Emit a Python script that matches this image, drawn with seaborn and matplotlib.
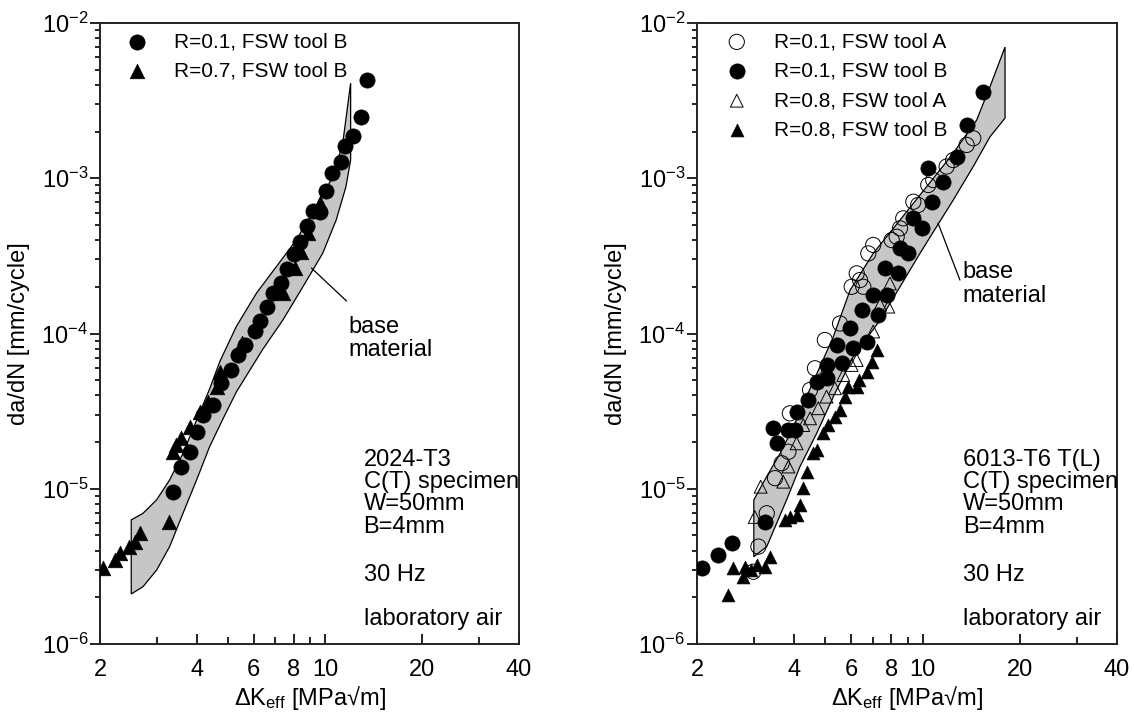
import matplotlib
matplotlib.use('Agg')
import matplotlib.pyplot as plt
import matplotlib.ticker as mticker
import numpy as np
import seaborn as sns

# ---- left panel: 2024-T3 ----
l_r01b_dk = [3.37, 3.56, 3.80, 3.99, 4.18, 4.49, 4.76, 5.12, 5.36, 5.63, 6.04, 6.29, 6.60, 6.88,
             7.31, 7.61, 7.98, 8.37, 8.77, 9.16, 9.65, 10.08, 10.52, 11.21, 11.56, 12.24, 12.93, 13.46]
l_r01b_rate = [9.57e-6, 1.39e-5, 1.73e-5, 2.33e-5, 2.99e-5, 3.46e-5, 4.78e-5, 5.82e-5, 7.27e-5, 8.43e-5,
               1.04e-4, 1.21e-4, 1.49e-4, 1.82e-4, 2.12e-4, 2.6e-4, 3.25e-4, 3.9e-4, 4.95e-4, 6.18e-4,
               6.09e-4, 8.3e-4, 1.08e-3, 1.28e-3, 1.61e-3, 1.87e-3, 2.47e-3, 4.3e-3]
l_r07b_dk = [2.04, 2.23, 2.31, 2.46, 2.57, 2.66, 3.28, 3.37, 3.44, 3.58, 3.80, 4.08, 4.33, 4.60, 4.71,
             5.50, 7.39, 8.04, 8.43, 8.84, 9.61]
l_r07b_rate = [3.07e-6, 3.48e-6, 3.84e-6, 4.24e-6, 4.56e-6, 5.16e-6, 6.13e-6, 1.73e-5, 1.91e-5, 2.11e-5,
               2.51e-5, 3.13e-5, 3.64e-5, 4.54e-5, 5.68e-5, 8.65e-5, 1.82e-4, 2.63e-4, 3.36e-4, 4.42e-4, 6.9e-4]

l_band_up_dk = [2.5, 2.72, 3.0, 3.29, 3.62, 3.99, 4.38, 4.71, 5.30, 6.12, 7.05, 8.13, 9.38, 10.56, 11.34, 12.0]
l_band_up_rate = [6.3e-6, 6.95e-6, 8.5e-6, 1.14e-5, 1.69e-5, 2.77e-5, 4.4e-5, 6.6e-5, 1.11e-4, 1.82e-4,
                  2.69e-4, 4.0e-4, 6.56e-4, 1.02e-3, 1.68e-3, 4.1e-3]
l_band_lo_dk = [2.5, 2.72, 3.0, 3.29, 3.62, 3.99, 4.38, 4.85, 5.30, 6.40, 7.39, 8.53, 9.83, 10.82, 11.6, 12.0]
l_band_lo_rate = [2.1e-6, 2.34e-6, 3.0e-6, 4.24e-6, 6.95e-6, 1.14e-5, 1.87e-5, 2.9e-5, 4.2e-5, 7.9e-5,
                  1.22e-4, 2.0e-4, 3.29e-4, 5.38e-4, 8.8e-4, 1.31e-3]

# ---- right panel: 6013-T6 ----
r_r01a_dk = [2.99, 3.10, 3.29, 3.49, 3.66, 3.84, 3.88, 4.48, 4.64, 4.98, 5.55, 6.03, 6.55, 6.25, 6.40,
             6.79, 7.03, 8.02, 8.31, 8.51, 8.71, 9.36, 9.69, 10.41, 10.79, 11.87, 12.44, 13.69, 14.35]
r_r01a_rate = [2.92e-6, 4.24e-6, 6.95e-6, 1.17e-5, 1.46e-5, 1.73e-5, 3.06e-5, 4.33e-5, 5.97e-5, 9.08e-5,
               1.16e-4, 2.0e-4, 2.0e-4, 2.44e-4, 2.21e-4, 3.28e-4, 3.72e-4, 4.0e-4, 4.2e-4, 4.76e-4,
               5.52e-4, 7.06e-4, 6.73e-4, 9.05e-4, 9.74e-4, 1.19e-3, 1.31e-3, 1.64e-3, 1.81e-3]
r_r01b_dk = [2.07, 2.33, 2.56, 3.25, 3.45, 3.53, 3.84, 4.02, 4.07, 4.42, 4.70, 5.04, 5.04, 5.61, 5.42,
             6.10, 6.71, 5.96, 6.47, 7.29, 7.03, 7.74, 7.65, 8.41, 8.51, 9.03, 9.36, 9.93, 10.67, 10.41,
             11.54, 12.75, 13.69, 15.35]
r_r01b_rate = [3.07e-6, 3.74e-6, 4.45e-6, 6.13e-6, 2.45e-5, 1.96e-5, 2.39e-5, 2.39e-5, 3.13e-5, 3.73e-5,
               4.89e-5, 5.14e-5, 6.27e-5, 6.43e-5, 8.43e-5, 8.03e-5, 8.86e-5, 1.08e-4, 1.42e-4, 1.32e-4,
               1.77e-4, 1.77e-4, 2.63e-4, 2.44e-4, 3.54e-4, 3.28e-4, 5.52e-4, 4.76e-4, 7.06e-4, 1.16e-3,
               9.5e-4, 1.38e-3, 2.2e-3, 3.61e-3]
r_r08a_dk = [3.02, 3.15, 3.70, 3.84, 4.07, 4.27, 4.48, 4.75, 5.04, 5.35, 5.68, 6.03, 6.25, 7.03, 7.38, 7.83, 7.92]
r_r08a_rate = [6.58e-6, 1.03e-5, 1.11e-5, 1.39e-5, 1.96e-5, 2.57e-5, 2.84e-5, 3.3e-5, 3.92e-5, 4.44e-5,
               5.4e-5, 6.27e-5, 6.75e-5, 1.03e-4, 1.53e-4, 1.49e-4, 2.1e-4]
r_r08b_dk = [2.50, 2.59, 2.78, 2.82, 2.95, 3.06, 3.25, 3.37, 3.75, 3.88, 4.07, 4.17, 4.27, 4.37, 4.58,
             4.70, 4.92, 5.10, 5.35, 5.55, 5.75, 5.88, 6.25, 6.36, 6.71, 6.95, 7.21]
r_r08b_rate = [2.07e-6, 3.07e-6, 2.71e-6, 3.15e-6, 3.0e-6, 3.23e-6, 3.15e-6, 3.65e-6, 6.29e-6, 6.6e-6,
               6.78e-6, 7.86e-6, 1.01e-5, 1.29e-5, 1.69e-5, 1.78e-5, 2.28e-5, 2.57e-5, 2.91e-5, 3.21e-5,
               3.92e-5, 4.54e-5, 4.54e-5, 5.02e-5, 5.68e-5, 6.58e-5, 7.83e-5]

r_band_up_dk = [3.0, 3.29, 3.62, 3.98, 4.37, 4.81, 5.29, 5.96, 7.03, 8.51, 10.29, 12.44, 14.7, 16.17, 18.0]
r_band_up_rate = [8.47e-6, 1.2e-5, 1.69e-5, 2.51e-5, 3.92e-5, 6.11e-5, 9.54e-5, 1.9e-4, 3.28e-4, 5.38e-4,
                  8.82e-4, 1.45e-3, 2.37e-3, 3.89e-3, 7.0e-3]
r_band_lo_dk = [3.0, 3.29, 3.79, 4.17, 4.70, 5.29, 6.10, 7.38, 8.51, 9.81, 11.05, 12.44, 14.35, 16.17, 18.0]
r_band_lo_rate = [3.65e-6, 4.24e-6, 8.47e-6, 1.39e-5, 2.28e-5, 3.92e-5, 7.09e-5, 1.22e-4, 2.0e-4, 3.28e-4,
                  4.88e-4, 7.24e-4, 1.19e-3, 1.85e-3, 2.44e-3]

x_major = [2, 4, 6, 8, 10, 20, 40]
x_minor = [3, 5, 7, 9, 30]
info_lines_left = ["2024-T3", "C(T) specimen", "W=50mm", "B=4mm"]
info_lines_right = ["6013-T6 T(L)", "C(T) specimen", "W=50mm", "B=4mm"]

sns.set_style("ticks")
plt.rcParams['font.family'] = ['Liberation Sans', 'DejaVu Sans']
plt.rcParams['mathtext.default'] = 'regular'
plt.rcParams['axes.linewidth'] = 1.4
plt.rcParams['axes.edgecolor'] = '#222222'
for key in ['text.color', 'axes.labelcolor', 'xtick.color', 'ytick.color']:
    plt.rcParams[key] = 'black'

fig = plt.figure(figsize=(11.34, 7.13), dpi=100)
ax1 = fig.add_axes([0.0882, 0.0968, 0.3695, 0.8709])
ax2 = fig.add_axes([0.6146, 0.0968, 0.3704, 0.8709])

FS = 17


def style_axes(ax):
    ax.set_xscale('log')
    ax.set_yscale('log')
    ax.set_xlim(2, 40)
    ax.set_ylim(1e-6, 1e-2)
    ax.xaxis.set_major_locator(mticker.FixedLocator(x_major))
    ax.xaxis.set_major_formatter(mticker.FixedFormatter([str(t) for t in x_major]))
    ax.xaxis.set_minor_locator(mticker.FixedLocator(x_minor))
    ax.xaxis.set_minor_formatter(mticker.NullFormatter())
    ax.yaxis.set_major_locator(mticker.LogLocator(base=10, numticks=10))
    ax.yaxis.set_minor_locator(mticker.LogLocator(base=10, subs=np.arange(2, 10), numticks=20))
    ax.yaxis.set_major_formatter(mticker.LogFormatterSciNotation())
    ax.yaxis.set_minor_formatter(mticker.NullFormatter())
    ax.tick_params(axis='x', which='both', direction='in', top=False, labelsize=FS, pad=11, width=1.2)
    ax.tick_params(axis='x', which='major', length=7)
    ax.tick_params(axis='x', which='minor', length=5)
    ax.tick_params(axis='y', which='both', direction='out', right=False, labelsize=FS, pad=1.5, width=1.2)
    ax.tick_params(axis='y', which='major', length=7)
    ax.tick_params(axis='y', which='minor', length=3.5)
    ax.set_xlabel(r'$\Delta$K$_{eff}$ [MPa√m]', fontsize=FS, labelpad=2)
    ax.set_ylabel('da/dN [mm/cycle]', fontsize=FS, labelpad=8)
    ax.grid(False)


def band(ax, up_x, up_y, lo_x, lo_y):
    xs = list(up_x) + list(lo_x)[::-1]
    ys = list(up_y) + list(lo_y)[::-1]
    ax.fill(xs, ys, facecolor='#c6c6c6', edgecolor='black', linewidth=0.9, zorder=1)


def info(ax, lines, x):
    base_y = [0.287, 0.251, 0.215, 0.178]
    for yy, t in zip(base_y, lines):
        ax.text(x, yy, t, transform=ax.transAxes, fontsize=FS, va='baseline')
    ax.text(x, 0.101, "30 Hz", transform=ax.transAxes, fontsize=FS, va='baseline')
    ax.text(x, 0.031, "laboratory air", transform=ax.transAxes, fontsize=FS, va='baseline')


def legend(ax, x0):
    ax.legend(loc='upper left', bbox_to_anchor=(x0, 0.985), frameon=False, fontsize=15,
              handlelength=1.0, handletextpad=1.28, labelspacing=0.5, borderpad=0, borderaxespad=0)


# left panel
band(ax1, l_band_up_dk, l_band_up_rate, l_band_lo_dk, l_band_lo_rate)
sns.scatterplot(x=l_r01b_dk, y=l_r01b_rate, ax=ax1, marker='o', s=120, color='black',
                edgecolor='black', linewidth=0.5, label='R=0.1, FSW tool B', zorder=3)
sns.scatterplot(x=l_r07b_dk, y=l_r07b_rate, ax=ax1, marker='^', s=110, color='black',
                edgecolor='black', linewidth=0.5, label='R=0.7, FSW tool B', zorder=3)
style_axes(ax1)
info(ax1, info_lines_left, 0.629)
ax1.text(0.593, 0.5008, "base", transform=ax1.transAxes, fontsize=FS, va='baseline')
ax1.text(0.593, 0.4638, "material", transform=ax1.transAxes, fontsize=FS, va='baseline')
ax1.annotate('', xy=(9.07, 2.64e-4), xytext=(11.65, 1.62e-4),
             arrowprops=dict(arrowstyle='-', lw=0.9, color='black', shrinkA=0, shrinkB=0))
legend(ax1, 0.063)

# right panel
band(ax2, r_band_up_dk, r_band_up_rate, r_band_lo_dk, r_band_lo_rate)
sns.scatterplot(x=r_r01a_dk, y=r_r01a_rate, ax=ax2, marker='o', s=120, facecolor='none',
                edgecolor='black', linewidth=0.7, label='R=0.1, FSW tool A', zorder=3)
sns.scatterplot(x=r_r01b_dk, y=r_r01b_rate, ax=ax2, marker='o', s=120, color='black',
                edgecolor='black', linewidth=0.5, label='R=0.1, FSW tool B', zorder=3)
sns.scatterplot(x=r_r08a_dk, y=r_r08a_rate, ax=ax2, marker='^', s=85, facecolor='none',
                edgecolor='black', linewidth=0.7, label='R=0.8, FSW tool A', zorder=3)
sns.scatterplot(x=r_r08b_dk, y=r_r08b_rate, ax=ax2, marker='^', s=85, color='black',
                edgecolor='black', linewidth=0.5, label='R=0.8, FSW tool B', zorder=3)
style_axes(ax2)
info(ax2, info_lines_right, 0.633)
ax2.text(0.633, 0.5894, "base", transform=ax2.transAxes, fontsize=FS, va='baseline')
ax2.text(0.633, 0.5507, "material", transform=ax2.transAxes, fontsize=FS, va='baseline')
ax2.annotate('', xy=(11.16, 5.15e-4), xytext=(13.05, 2.21e-4),
             arrowprops=dict(arrowstyle='-', lw=0.9, color='black', shrinkA=0, shrinkB=0))
legend(ax2, 0.07)

fig.savefig('out.png', dpi=100)
